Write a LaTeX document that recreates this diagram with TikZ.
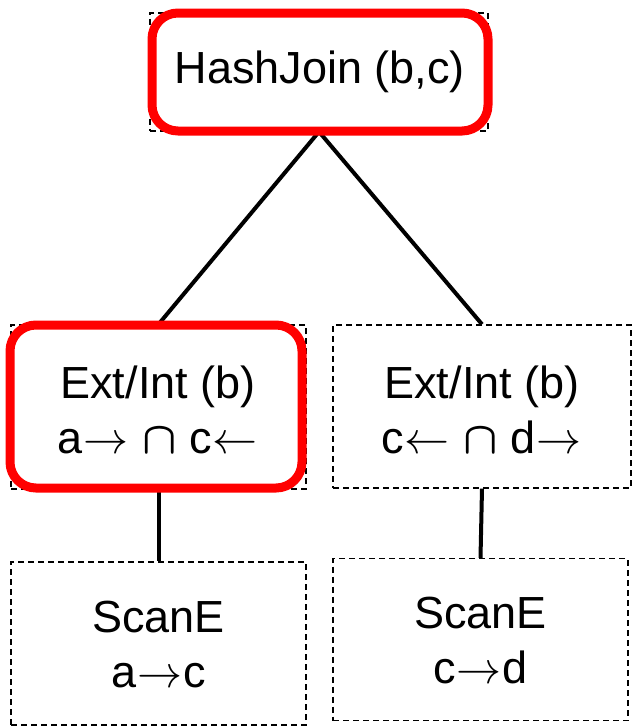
\RequirePackage{fix-cm}
\documentclass[tikz,border=0pt]{standalone}
\usepackage{fontspec}
\setmainfont{Liberation Sans}
\newcommand{\ra}{\kern1pt$\rightarrow$\kern1pt}
\newcommand{\la}{\kern1pt$\leftarrow$\kern1pt}
\newcommand{\meet}{{\boldmath$\cap$}}
\begin{document}
\begin{tikzpicture}[x=1pt,y=-1pt,
  opbox/.style={draw=black, dashed, dash pattern=on 6pt off 4pt, line width=1.4pt,
    minimum width=#1, inner sep=0pt, fill=white},
  hilite/.style={draw=red, line width=9pt, rounded corners=26pt, minimum width=#1, inner sep=0pt},
  label/.style={align=center, font=\fontsize{45}{55}\selectfont, inner sep=0pt},
  edge/.style={line width=4pt, black}]
\useasboundingbox (0,0) rectangle (634,728);

% plan operators (dashed frames)
\node[opbox=338pt, minimum height=118pt] (hj) at (319,72) {};
\node[opbox=295pt, minimum height=164pt] (l1) at (158.5,407) {};
\node[opbox=298pt, minimum height=163pt] (r1) at (482,406.5) {};
\node[opbox=295pt, minimum height=163pt] (l2) at (158.5,643.5) {};
\node[opbox=295pt, minimum height=162pt] (r2) at (480.5,639.5) {};

% tree edges
\draw[edge] (hj.south) -- (l1.north);
\draw[edge] (hj.south) -- (r1.north);
\draw[edge] (l1.south) -- (l2.north);
\draw[edge] (r1.south) -- (r2.north);

% highlighted operators
\node[hilite=336pt, minimum height=118pt, fill=white] (hjr) at (320,72) {};
\node[hilite=292pt, minimum height=163pt, fill=white] (l1r) at (156,406.5) {};

% operator texts
\node[label] (thj) at (320,72) {HashJoin (b,c)};
\node[label] (tl1) at (158,410) {Ext/Int (b)\\a\ra{} \meet{} c\la};
\node[label] (tr1) at (482,410) {Ext/Int (b)\\c\la{} \meet{} d\ra};
\node[label] (tl2) at (158.5,645) {ScanE\\a\ra c};
\node[label] (tr2) at (480.5,641) {ScanE\\c\ra d};
\end{tikzpicture}
\end{document}
